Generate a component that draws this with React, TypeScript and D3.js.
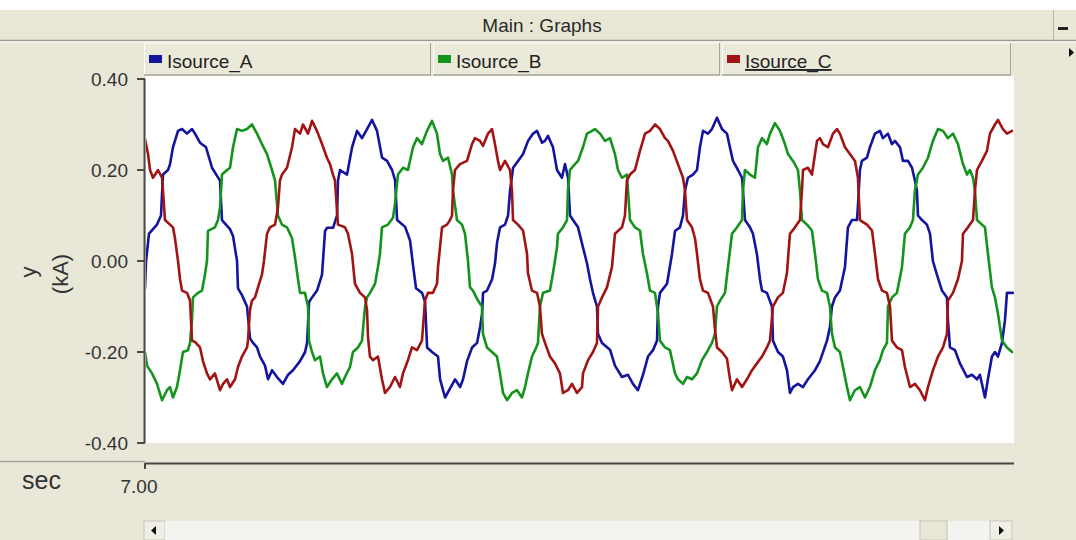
import React from 'react';
import * as d3 from 'd3';

// ---- data (time in ms after 7.00 s, current in kA) ----
const seriesNames = ['Isource_A', 'Isource_B', 'Isource_C'];
const seriesColors = ['#14149e', '#14941c', '#a21414'];
const yTicks = [0.4, 0.2, 0.0, -0.2, -0.4];
const xTicks = [7.0];
const xDomain = [7.0, 7.1];
const yDomain = [-0.4, 0.4];

const isourceA: [number, number][] = [
  [0.00,-0.06],[0.12,0.0],[0.46,0.06],[1.38,0.08],[1.84,0.10],[2.07,0.19],[2.65,0.20],[2.88,0.213],[3.22,0.25],[3.80,0.286],
  [4.26,0.29],[4.83,0.28],[5.41,0.29],[5.75,0.28],[6.33,0.26],[7.02,0.25],[7.71,0.205],[8.29,0.187],[8.63,0.177],[8.86,0.09],
  [9.32,0.08],[9.78,0.07],[10.13,0.055],[10.59,0.0],[10.70,-0.06],[11.16,-0.075],[11.74,-0.10],[12.09,-0.17],[12.43,-0.18],[12.89,-0.19],
  [13.24,-0.21],[13.81,-0.23],[14.16,-0.26],[14.62,-0.24],[15.19,-0.255],[15.88,-0.27],[16.46,-0.25],[17.03,-0.24],[17.84,-0.22],[18.42,-0.20],
  [18.65,-0.18],[18.88,-0.09],[19.22,-0.08],[19.80,-0.065],[20.37,-0.03],[20.72,0.066],[20.95,0.073],[21.64,0.073],[22.10,0.10],[22.21,0.177],
  [22.44,0.20],[23.25,0.19],[23.83,0.25],[24.40,0.286],[24.98,0.27],[25.55,0.29],[26.13,0.31],[26.70,0.286],[27.28,0.227],[27.85,0.22],
  [28.43,0.20],[28.78,0.177],[29.01,0.09],[29.93,0.075],[30.50,0.045],[30.85,-0.01],[31.19,-0.06],[31.88,-0.07],[32.23,-0.09],[32.46,-0.19],
  [33.03,-0.20],[33.72,-0.21],[33.96,-0.26],[34.53,-0.30],[35.11,-0.28],[35.68,-0.26],[36.26,-0.277],[36.60,-0.26],[37.06,-0.22],[37.64,-0.19],
  [38.21,-0.18],[38.56,-0.145],[38.79,-0.115],[38.90,-0.07],[39.36,-0.065],[39.94,-0.04],[40.28,-0.005],[40.51,0.04],[40.86,0.074],[41.43,0.08],
  [41.78,0.10],[42.01,0.155],[42.36,0.205],[42.93,0.22],[43.51,0.235],[44.08,0.264],[44.66,0.28],[45.11,0.286],[45.69,0.26],[46.03,0.264],
  [46.37,0.275],[46.95,0.25],[47.41,0.20],[47.98,0.183],[48.33,0.213],[48.68,0.183],[48.91,0.10],[49.25,0.09],[49.83,0.074],[50.40,0.03],
  [50.86,-0.005],[51.21,-0.04],[51.55,-0.07],[52.01,-0.10],[52.13,-0.16],[52.59,-0.18],[53.51,-0.195],[54.08,-0.23],[54.89,-0.255],[55.58,-0.25],
  [56.15,-0.27],[56.73,-0.284],[57.31,-0.25],[57.88,-0.21],[58.46,-0.196],[58.92,-0.175],[59.03,-0.10],[59.26,-0.07],[60.07,-0.05],[60.64,0.015],
  [60.99,0.066],[61.56,0.074],[61.91,0.10],[62.14,0.155],[62.48,0.183],[63.06,0.19],[63.52,0.20],[63.86,0.25],[64.21,0.286],[64.78,0.28],
  [65.24,0.29],[65.82,0.315],[66.39,0.29],[66.97,0.28],[67.31,0.25],[67.66,0.22],[68.24,0.20],[68.70,0.183],[68.81,0.155],[69.04,0.09],
  [69.62,0.074],[69.96,0.06],[70.42,0.015],[70.77,-0.04],[71.00,-0.065],[71.57,-0.07],[72.15,-0.10],[72.26,-0.175],[72.84,-0.20],[73.41,-0.21],
  [73.87,-0.24],[74.22,-0.29],[74.57,-0.277],[75.14,-0.27],[75.72,-0.277],[76.29,-0.26],[77.10,-0.24],[77.67,-0.22],[78.48,-0.175],[78.82,-0.145],
  [79.05,-0.10],[79.40,-0.08],[79.97,-0.065],[80.55,-0.013],[80.89,0.074],[81.35,0.09],[81.93,0.09],[82.04,0.12],[82.27,0.20],[82.50,0.22],
  [83.08,0.227],[83.42,0.25],[84.00,0.28],[84.57,0.286],[84.92,0.27],[85.49,0.28],[85.95,0.257],[86.30,0.264],[86.88,0.25],[87.22,0.22],
  [87.80,0.22],[88.26,0.205],[88.60,0.177],[88.83,0.155],[88.95,0.10],[89.41,0.09],[89.98,0.08],[90.33,0.06],[90.67,0.0],[91.13,-0.03],
  [91.71,-0.065],[92.28,-0.08],[92.40,-0.13],[92.63,-0.19],[93.21,-0.196],[93.78,-0.225],[94.59,-0.255],[95.16,-0.25],[95.74,-0.26],[96.08,-0.25],
  [96.66,-0.30],[97.00,-0.26],[97.46,-0.21],[97.81,-0.20],[98.15,-0.21],[98.62,-0.18],[98.96,-0.13],[99.19,-0.07],[99.54,-0.07],[99.88,-0.07],
];

const isourceB: [number, number][] = [
  [0.00,-0.20],[0.23,-0.23],[0.81,-0.247],[1.38,-0.27],[1.96,-0.306],[2.53,-0.284],[2.88,-0.277],[3.22,-0.30],[3.68,-0.277],[4.03,-0.24],
  [4.37,-0.20],[4.95,-0.196],[5.18,-0.18],[5.41,-0.13],[5.52,-0.08],[6.10,-0.07],[6.56,-0.065],[6.90,-0.03],[7.13,0.0],[7.25,0.066],
  [8.05,0.074],[8.40,0.09],[8.63,0.117],[8.86,0.19],[9.44,0.20],[9.78,0.205],[10.13,0.25],[10.59,0.29],[11.16,0.286],[11.74,0.29],
  [12.31,0.30],[12.89,0.28],[13.46,0.257],[14.04,0.235],[14.61,0.20],[14.96,0.177],[15.30,0.10],[15.76,0.08],[16.34,0.074],[16.92,0.05],
  [17.26,0.008],[17.61,-0.04],[17.84,-0.07],[18.41,-0.07],[18.76,-0.10],[18.87,-0.175],[19.22,-0.20],[19.56,-0.218],[20.14,-0.21],[20.48,-0.247],
  [20.94,-0.277],[21.52,-0.26],[22.09,-0.247],[22.67,-0.27],[23.01,-0.255],[23.59,-0.233],[23.93,-0.20],[24.51,-0.19],[24.97,-0.175],[25.32,-0.10],
  [25.55,-0.08],[25.89,-0.07],[26.47,-0.05],[26.81,-0.013],[27.04,0.016],[27.27,0.074],[27.96,0.08],[28.54,0.095],[28.77,0.126],[29.11,0.19],
  [29.69,0.205],[30.26,0.20],[30.84,0.25],[31.30,0.27],[31.87,0.257],[32.45,0.286],[33.03,0.308],[33.60,0.28],[33.95,0.235],[34.29,0.22],
  [34.87,0.227],[35.33,0.19],[35.44,0.155],[35.90,0.09],[36.48,0.08],[36.82,0.06],[37.17,0.0],[37.40,-0.058],[37.74,-0.065],[38.32,-0.087],
  [38.78,-0.10],[38.89,-0.16],[39.35,-0.19],[39.93,-0.20],[40.50,-0.21],[40.85,-0.247],[41.20,-0.29],[41.66,-0.306],[42.23,-0.29],[42.81,-0.284],
  [43.38,-0.30],[43.73,-0.277],[44.07,-0.247],[44.53,-0.21],[44.88,-0.196],[45.22,-0.18],[45.45,-0.10],[45.80,-0.07],[46.60,-0.065],[46.95,-0.027],
  [47.41,0.03],[47.52,0.06],[48.10,0.074],[48.56,0.09],[48.67,0.155],[48.90,0.20],[49.48,0.213],[49.83,0.22],[50.40,0.25],[50.86,0.28],
  [51.44,0.286],[51.78,0.29],[52.36,0.28],[52.93,0.264],[53.51,0.27],[54.08,0.235],[54.43,0.20],[54.89,0.183],[55.46,0.19],[55.58,0.155],
  [55.81,0.09],[56.38,0.074],[56.96,0.067],[57.30,0.016],[57.76,-0.027],[58.11,-0.065],[58.69,-0.07],[59.03,-0.115],[59.26,-0.175],[59.84,-0.19],
  [60.41,-0.196],[60.99,-0.247],[61.33,-0.26],[61.91,-0.27],[62.37,-0.255],[62.94,-0.26],[63.52,-0.247],[64.09,-0.218],[64.67,-0.20],[65.24,-0.18],
  [65.59,-0.16],[65.82,-0.10],[66.17,-0.087],[66.74,-0.07],[67.09,-0.013],[67.55,0.06],[68.12,0.074],[68.70,0.09],[68.81,0.155],[69.04,0.20],
  [69.62,0.19],[70.19,0.183],[70.54,0.25],[71.00,0.27],[71.57,0.257],[71.92,0.28],[72.49,0.303],[73.07,0.286],[73.64,0.257],[73.99,0.235],
  [74.57,0.22],[75.14,0.20],[75.37,0.155],[75.60,0.09],[76.18,0.08],[76.75,0.067],[77.10,0.016],[77.44,-0.04],[77.90,-0.065],[78.48,-0.07],
  [78.82,-0.10],[79.05,-0.16],[79.40,-0.19],[79.97,-0.20],[80.32,-0.233],[80.78,-0.277],[81.12,-0.306],[81.70,-0.284],[82.27,-0.277],[82.85,-0.30],
  [83.42,-0.277],[84.00,-0.24],[84.57,-0.218],[84.92,-0.196],[85.38,-0.18],[85.50,-0.10],[85.96,-0.08],[86.53,-0.07],[87.11,-0.013],[87.45,0.06],
  [88.03,0.074],[88.37,0.09],[88.60,0.155],[88.95,0.19],[89.52,0.205],[90.10,0.227],[90.67,0.264],[91.25,0.29],[91.83,0.286],[92.40,0.27],
  [92.98,0.28],[93.55,0.257],[94.13,0.213],[94.59,0.19],[94.93,0.20],[95.28,0.183],[95.51,0.155],[95.74,0.09],[96.31,0.08],[96.66,0.074],
  [97.00,0.016],[97.46,-0.058],[97.81,-0.08],[98.15,-0.115],[98.62,-0.175],[99.19,-0.19],[99.77,-0.20],
];

const isourceC: [number, number][] = [
  [0.00,0.268],[0.35,0.235],[0.58,0.20],[0.92,0.183],[1.50,0.20],[1.96,0.183],[2.07,0.155],[2.30,0.09],[2.88,0.08],[3.22,0.074],
  [3.45,0.05],[3.80,0.0],[4.03,-0.04],[4.26,-0.065],[4.83,-0.07],[5.18,-0.087],[5.41,-0.175],[5.75,-0.178],[6.33,-0.19],[6.67,-0.22],
  [7.13,-0.247],[7.48,-0.26],[8.05,-0.247],[8.63,-0.284],[8.98,-0.27],[9.44,-0.26],[9.78,-0.277],[10.36,-0.26],[10.70,-0.233],[11.16,-0.21],
  [11.74,-0.19],[11.85,-0.175],[12.08,-0.108],[12.31,-0.087],[12.66,-0.08],[13.00,-0.058],[13.46,-0.03],[13.69,0.0],[14.04,0.06],[14.38,0.074],
  [14.96,0.08],[15.30,0.117],[15.53,0.177],[15.76,0.19],[16.34,0.205],[16.92,0.25],[17.26,0.29],[17.84,0.28],[18.18,0.30],[18.76,0.28],
  [19.22,0.308],[19.79,0.286],[20.37,0.257],[20.94,0.227],[21.29,0.213],[21.63,0.19],[21.86,0.177],[22.21,0.08],[23.01,0.074],[23.36,0.06],
  [23.82,0.016],[24.16,-0.05],[24.74,-0.07],[25.32,-0.08],[25.55,-0.108],[25.66,-0.167],[25.89,-0.21],[26.24,-0.218],[26.81,-0.21],[27.27,-0.26],
  [27.62,-0.29],[28.19,-0.277],[28.77,-0.255],[29.34,-0.277],[29.69,-0.247],[30.26,-0.218],[30.72,-0.19],[31.30,-0.196],[31.87,-0.175],[31.99,-0.145],
  [32.22,-0.087],[32.57,-0.07],[33.14,-0.07],[33.60,-0.05],[33.72,-0.013],[34.18,0.074],[34.75,0.08],[35.10,0.09],[35.33,0.10],[35.44,0.155],
  [35.67,0.20],[36.25,0.213],[37.05,0.22],[37.63,0.257],[37.97,0.27],[38.55,0.264],[38.89,0.253],[39.47,0.28],[39.93,0.29],[40.27,0.257],
  [40.62,0.22],[40.85,0.20],[41.43,0.22],[42.00,0.20],[42.23,0.155],[42.35,0.09],[42.92,0.08],[43.50,0.067],[43.96,0.016],[44.07,-0.027],
  [44.53,-0.065],[45.11,-0.07],[45.45,-0.10],[45.68,-0.16],[46.03,-0.18],[46.60,-0.21],[47.18,-0.225],[47.75,-0.247],[48.10,-0.29],[48.67,-0.284],
  [49.13,-0.27],[49.71,-0.29],[50.29,-0.277],[50.40,-0.247],[50.98,-0.218],[51.55,-0.20],[52.01,-0.18],[52.13,-0.10],[52.59,-0.08],[53.16,-0.058],
  [53.74,-0.013],[54.08,0.06],[54.89,0.074],[55.23,0.10],[55.46,0.177],[55.81,0.19],[56.38,0.20],[56.96,0.242],[57.54,0.28],[58.11,0.286],
  [58.69,0.30],[59.26,0.29],[59.84,0.27],[60.18,0.264],[60.76,0.242],[61.33,0.213],[61.91,0.183],[62.14,0.155],[62.37,0.09],[62.94,0.074],
  [63.29,0.05],[63.52,0.016],[63.86,-0.04],[64.21,-0.065],[64.78,-0.07],[65.36,-0.10],[65.59,-0.15],[65.82,-0.19],[66.40,-0.20],[66.97,-0.215],
  [67.32,-0.26],[67.55,-0.284],[68.12,-0.26],[68.70,-0.277],[69.27,-0.26],[69.85,-0.24],[70.42,-0.225],[71.00,-0.21],[71.57,-0.19],[71.92,-0.175],
  [72.26,-0.10],[72.84,-0.08],[73.41,-0.07],[73.87,-0.027],[74.22,0.06],[74.80,0.074],[75.37,0.09],[75.60,0.155],[75.72,0.20],[76.29,0.205],
  [76.75,0.19],[77.33,0.264],[77.67,0.27],[78.02,0.257],[78.59,0.25],[79.17,0.28],[79.63,0.29],[79.97,0.28],[80.55,0.25],[81.12,0.235],
  [81.70,0.22],[82.04,0.183],[82.27,0.09],[83.08,0.08],[83.66,0.067],[84.00,0.016],[84.35,-0.04],[84.81,-0.065],[85.38,-0.07],[85.73,-0.10],
  [85.96,-0.175],[86.53,-0.19],[87.11,-0.196],[87.45,-0.233],[88.03,-0.277],[88.60,-0.27],[89.18,-0.284],[89.75,-0.306],[90.10,-0.277],[90.68,-0.24],
  [91.25,-0.21],[91.83,-0.19],[92.29,-0.16],[92.40,-0.087],[92.98,-0.07],[93.55,-0.04],[94.01,0.0],[94.13,0.06],[94.70,0.074],[95.28,0.09],
  [95.51,0.155],[95.74,0.20],[96.31,0.22],[96.89,0.242],[97.23,0.28],[97.81,0.30],[98.15,0.31],[98.73,0.29],[99.19,0.28],[99.77,0.286],
];

const seriesData = [isourceA, isourceB, isourceC];

const FONT = '"Liberation Sans", Arial, sans-serif';
const BG = '#e9e7d8';

const fmt2 = (v: number) => {
  const s = Math.abs(v).toFixed(2);
  return v < -1e-9 ? '-' + s : s;
};

export default function App() {
  const W = 1076;
  const H = 540;
  const plotL = 145, plotR = 1014, plotT = 79, plotB = 443;

  const x = d3.scaleLinear().domain(xDomain).range([plotL, plotR]);
  const y = d3.scaleLinear().domain(yDomain).range([plotB, plotT]);
  const line = d3
    .line<[number, number]>()
    .x((d) => x(7 + d[0] / 1000))
    .y((d) => y(d[1]));

  const legendCells = [
    { x0: 144, x1: 431 },
    { x0: 433, x1: 720 },
    { x0: 722, x1: 1011 },
  ];

  return (
    <svg
      width={W}
      height={H}
      style={{ position: 'absolute', left: 0, top: 0, display: 'block' }}
      fontFamily={FONT}
    >
      <defs>
        <clipPath id="plotclip">
          <rect x={plotL + 1} y={76} width={plotR - plotL - 1} height={plotB - 76} />
        </clipPath>
      </defs>
      {/* backgrounds */}
      <rect x={0} y={0} width={W} height={H} fill="#ffffff" />
      <rect x={0} y={10} width={W} height={H - 10} fill={BG} />
      {/* title bar */}
      <rect x={0} y={10} width={1053} height={30} fill="#e8e6d4" />
      <line x1={0} x2={W} y1={40.5} y2={40.5} stroke="#9c9c92" strokeWidth={1.5} />
      <line x1={0} x2={W} y1={42} y2={42} stroke="#ffffff" strokeWidth={1} />
      <line x1={1053.5} x2={1053.5} y1={10} y2={40} stroke="#b8b6a8" strokeWidth={1} />
      <rect x={1058} y={27} width={10} height={3} fill="#222" />
      <text x={542} y={32} textAnchor="middle" fontSize={19} fill="#2a2a2a">
        Main : Graphs
      </text>
      {/* right arrow */}
      <path d="M1069,48 L1074,52.5 L1069,57 Z" fill="#111" />

      {/* legend */}
      {legendCells.map((c, i) => (
        <g key={seriesNames[i]}>
          <rect x={c.x0} y={43} width={c.x1 - c.x0} height={32} fill="#ebe9da" />
          <line x1={c.x0 + 0.5} x2={c.x0 + 0.5} y1={43} y2={75} stroke="#ffffff" />
          <line x1={c.x0} x2={c.x1} y1={43.5} y2={43.5} stroke="#f6f5ee" />
          <line x1={c.x1 - 0.5} x2={c.x1 - 0.5} y1={43} y2={75} stroke="#a8a69a" />
          <line x1={c.x0} x2={c.x1} y1={75} y2={75} stroke="#a8a69a" strokeWidth={1.5} />
          <rect x={c.x0 + 5} y={55} width={13} height={8} fill={seriesColors[i]} />
          <text
            x={c.x0 + 23}
            y={68}
            fontSize={19}
            fill="#222"
            textDecoration={i === 2 ? 'underline' : undefined}
          >
            {seriesNames[i]}
          </text>
        </g>
      ))}

      {/* plot area */}
      <rect x={plotL + 1} y={76} width={plotR - plotL - 1} height={plotB - 76} fill="#ffffff" />
      <g clipPath="url(#plotclip)">
        {seriesData.map((s, i) => (
          <path
            key={seriesNames[i]}
            d={line(s) || ''}
            fill="none"
            stroke={seriesColors[i]}
            strokeWidth={2.6}
            strokeLinejoin="round"
            strokeLinecap="round"
          />
        ))}
      </g>

      {/* y axis */}
      <line x1={144.5} x2={144.5} y1={y(0.4)} y2={y(-0.4)} stroke="#4a4a4a" strokeWidth={2} />
      {yTicks.map((t) => (
        <g key={t}>
          <line x1={137} x2={145} y1={y(t)} y2={y(t)} stroke="#4a4a4a" strokeWidth={2} />
          <text
            x={128}
            y={y(t)}
            dy="0.35em"
            textAnchor="end"
            fontSize={19}
            fill="#333"
          >
            {fmt2(t)}
          </text>
        </g>
      ))}
      <text
        transform="translate(28,272) rotate(-90)"
        textAnchor="middle"
        dy="0.35em"
        fontSize={22}
        fill="#333"
      >
        y
      </text>
      <text
        transform="translate(60,274) rotate(-90)"
        textAnchor="middle"
        dy="0.35em"
        fontSize={22}
        fill="#333"
      >
        (kA)
      </text>

      {/* x axis */}
      <line x1={0} x2={plotL} y1={461.5} y2={461.5} stroke="#a6a49a" strokeWidth={1.5} />
      <line x1={plotL} x2={plotR} y1={463.5} y2={463.5} stroke="#444" strokeWidth={2.2} />
      {xTicks.map((t) => (
        <g key={t}>
          <line x1={x(t)} x2={x(t)} y1={463} y2={469} stroke="#444" strokeWidth={2} />
          <text x={x(t) - 6} y={493} textAnchor="middle" fontSize={19} fill="#333">
            {fmt2(t)}
          </text>
        </g>
      ))}
      <text x={22} y={489} fontSize={25} fill="#333">
        sec
      </text>

      {/* scrollbar */}
      <rect x={144} y={521} width={21} height={19} fill="#f0efe6" stroke="#c8c6b8" />
      <path d="M151,530.5 L156,526 L156,535 Z" fill="#111" />
      <rect x={165} y={521} width={825} height={19} fill="#f3f3f0" />
      <rect x={920} y={521} width={27} height={19} fill="#e8e6d6" stroke="#c8c6b8" />
      <rect x={990} y={521} width={22} height={19} fill="#f0efe6" stroke="#c8c6b8" />
      <path d="M999,526 L1004,530.5 L999,535 Z" fill="#111" />
    </svg>
  );
}
